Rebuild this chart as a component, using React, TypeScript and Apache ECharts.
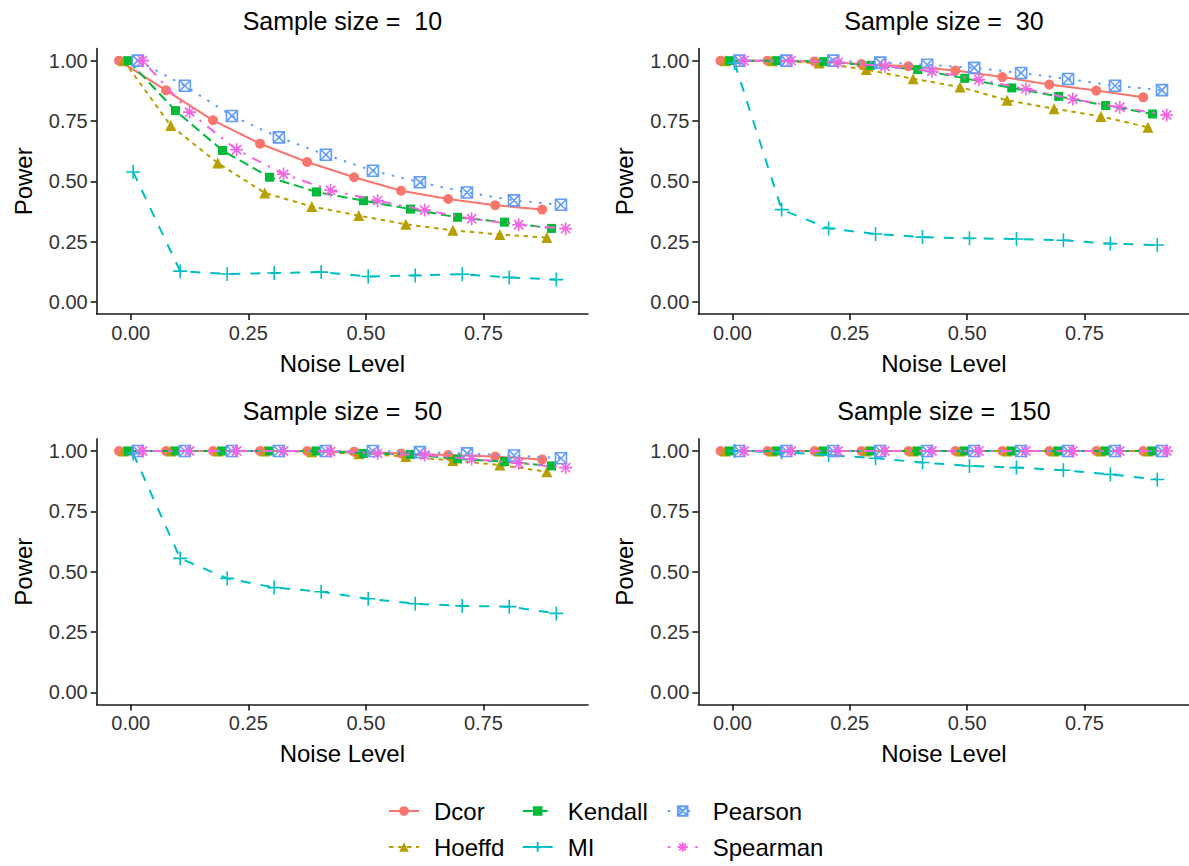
import React, { useEffect, useRef } from "react";
import * as echarts from "echarts";

const noiseLevels = [0, 0.1, 0.2, 0.3, 0.4, 0.5, 0.6, 0.7, 0.8, 0.9];
const methods = ["Dcor", "Hoeffd", "Kendall", "MI", "Pearson", "Spearman"];
const colors = ["#F8766D", "#B79F00", "#00BA38", "#00BFC4", "#619CFF", "#F564E3"];
const sampleSizes = [10, 30, 50, 150];
const xTicks = [0, 0.25, 0.5, 0.75];
const yTicks = [0, 0.25, 0.5, 0.75, 1];

// Sample size = 10
const dcor10 = [1.0, 0.877, 0.753, 0.656, 0.58, 0.517, 0.461, 0.427, 0.401, 0.383];
const hoeffd10 = [1.0, 0.731, 0.576, 0.452, 0.396, 0.358, 0.322, 0.297, 0.28, 0.267];
const kendall10 = [1.0, 0.793, 0.628, 0.517, 0.456, 0.42, 0.385, 0.351, 0.331, 0.305];
const mi10 = [0.539, 0.128, 0.116, 0.12, 0.124, 0.106, 0.11, 0.115, 0.102, 0.093];
const pearson10 = [1.0, 0.896, 0.771, 0.682, 0.61, 0.544, 0.496, 0.454, 0.421, 0.403];
const spearman10 = [1.0, 0.787, 0.631, 0.53, 0.463, 0.42, 0.381, 0.345, 0.32, 0.304];

// Sample size = 30
const dcor30 = [1.0, 1.0, 0.997, 0.986, 0.977, 0.959, 0.932, 0.901, 0.876, 0.848];
const hoeffd30 = [1.0, 1.0, 0.99, 0.963, 0.925, 0.891, 0.836, 0.801, 0.769, 0.724];
const kendall30 = [1.0, 1.0, 0.996, 0.981, 0.963, 0.927, 0.887, 0.852, 0.814, 0.779];
const mi30 = [0.99, 0.383, 0.305, 0.282, 0.269, 0.264, 0.261, 0.256, 0.242, 0.236];
const pearson30 = [1.0, 1.0, 1.0, 0.992, 0.983, 0.97, 0.949, 0.924, 0.896, 0.878];
const spearman30 = [1.0, 1.0, 0.993, 0.977, 0.956, 0.921, 0.883, 0.841, 0.807, 0.775];

// Sample size = 50
const dcor50 = [1.0, 1.0, 1.0, 1.0, 1.0, 0.997, 0.99, 0.983, 0.977, 0.965];
const hoeffd50 = [1.0, 1.0, 1.0, 1.0, 0.997, 0.988, 0.977, 0.96, 0.942, 0.914];
const kendall50 = [1.0, 1.0, 1.0, 1.0, 1.0, 0.99, 0.986, 0.967, 0.956, 0.938];
const mi50 = [0.99, 0.555, 0.472, 0.434, 0.417, 0.388, 0.367, 0.358, 0.355, 0.327];
const pearson50 = [1.0, 1.0, 1.0, 1.0, 1.0, 1.0, 0.995, 0.99, 0.981, 0.97];
const spearman50 = [1.0, 1.0, 1.0, 1.0, 0.998, 0.99, 0.983, 0.967, 0.949, 0.931];

// Sample size = 150
const dcor150 = [1, 1, 1, 1, 1, 1, 1, 1, 1, 1];
const hoeffd150 = [1, 1, 1, 1, 1, 1, 1, 1, 1, 1];
const kendall150 = [1, 1, 1, 1, 1, 1, 1, 1, 1, 1];
const mi150 = [1.0, 0.995, 0.983, 0.97, 0.952, 0.938, 0.931, 0.92, 0.903, 0.882];
const pearson150 = [1, 1, 1, 1, 1, 1, 1, 1, 1, 1];
const spearman150 = [1, 1, 1, 1, 1, 1, 1, 1, 1, 1];

const panelData = [
  [dcor10, hoeffd10, kendall10, mi10, pearson10, spearman10],
  [dcor30, hoeffd30, kendall30, mi30, pearson30, spearman30],
  [dcor50, hoeffd50, kendall50, mi50, pearson50, spearman50],
  [dcor150, hoeffd150, kendall150, mi150, pearson150, spearman150],
];

const FONT = "'Liberation Sans', Arial, Helvetica, sans-serif";

const symbols = [
  "circle",
  "triangle",
  "rect",
  "path://M0,-1 L0,1 M-1,0 L1,0",
  "path://M-1,-1 L1,-1 L1,1 L-1,1 Z M-1,-1 L1,1 M1,-1 L-1,1",
  "path://M0,-1 L0,1 M-1,0 L1,0 M-0.71,-0.71 L0.71,0.71 M0.71,-0.71 L-0.71,0.71",
];
const symbolSizes = [10, 11, 9, 14, 11, 13];
const dashes: any[] = ["solid", [4.5, 4.5], [10, 5], [10, 10], [2.5, 7.5], [2.5, 7.5, 10, 7.5]];
const filled = [true, true, true, false, false, false];

const GL = [96.7, 698.3];
const GT = [48.6, 438.9];
const GW = 491.3;
const GH = 265.5;

export default function App() {
  const ref = useRef<HTMLDivElement>(null);
  useEffect(() => {
    if (!ref.current) return;
    const chart = echarts.init(ref.current, null, { renderer: "svg" });
    const grids: any[] = [];
    const xAxes: any[] = [];
    const yAxes: any[] = [];
    const series: any[] = [];
    const graphics: any[] = [];
    const axisLineStyle = { color: "#1a1a1a", width: 1.6 };
    sampleSizes.forEach((n, p) => {
      const col = p % 2;
      const row = Math.floor(p / 2);
      const left = GL[col];
      const top = GT[row];
      grids.push({ left, top, width: GW, height: GH, containLabel: false });
      xAxes.push({
        type: "value",
        gridIndex: p,
        min: -0.0725,
        max: 0.9725,
        axisLine: { show: true, onZero: false, lineStyle: axisLineStyle },
        axisTick: { show: true, length: 6, customValues: xTicks, lineStyle: axisLineStyle },
        axisLabel: {
          customValues: xTicks,
          formatter: (v: number) => v.toFixed(2),
          fontSize: 20,
          color: "#333",
          fontFamily: FONT,
          margin: 9,
        },
        splitLine: { show: false },
      });
      yAxes.push({
        type: "value",
        gridIndex: p,
        min: -0.05,
        max: 1.05,
        axisLine: { show: true, onZero: false, lineStyle: axisLineStyle },
        axisTick: { show: true, length: 6, customValues: yTicks, lineStyle: axisLineStyle },
        axisLabel: {
          customValues: yTicks,
          formatter: (v: number) => v.toFixed(2),
          fontSize: 20,
          color: "#333",
          fontFamily: FONT,
          margin: 9,
        },
        splitLine: { show: false },
      });
      const cx = left + GW / 2;
      graphics.push({
        type: "text",
        x: cx,
        y: top - 27.6,
        style: { text: "Sample size =  " + n, font: `25px ${FONT}`, fill: "#000", align: "center", verticalAlign: "middle", textAlign: "center", textVerticalAlign: "middle" },
      });
      graphics.push({
        type: "text",
        x: cx,
        y: top + GH + 49,
        style: { text: "Noise Level", font: `24px ${FONT}`, fill: "#000", align: "center", verticalAlign: "middle", textAlign: "center", textVerticalAlign: "middle" },
      });
      graphics.push({
        type: "text",
        x: left - 73.5,
        y: top + GH / 2,
        rotation: Math.PI / 2,
        style: { text: "Power", font: `24px ${FONT}`, fill: "#000", align: "center", verticalAlign: "middle", textAlign: "center", textVerticalAlign: "middle" },
      });
      methods.forEach((m, i) => {
        const offset = (i - 2.5) * 0.01;
        const vals = panelData[p][i];
        series.push({
          type: "line",
          name: m,
          xAxisIndex: p,
          yAxisIndex: p,
          data: noiseLevels.map((x, k) => [x + offset, vals[k]]),
          symbol: symbols[i],
          symbolSize: symbolSizes[i],
          showSymbol: true,
          lineStyle: { color: colors[i], width: 2, type: dashes[i] },
          itemStyle: filled[i]
            ? { color: colors[i], borderWidth: 0 }
            : { color: "rgba(0,0,0,0)", borderColor: colors[i], borderWidth: 1.6 },
          emphasis: { disabled: true },
          z: 2 + i,
        });
      });
    });

    const legendCols = [
      { left: 388, items: ["Dcor", "Hoeffd"] },
      { left: 521.7, items: ["Kendall", "MI"] },
      { left: 666.7, items: ["Pearson", "Spearman"] },
    ];
    const legendRows = [813, 849];
    const legends: any[] = [];
    legendCols.forEach((c) => {
      c.items.forEach((name, r) => {
        legends.push({
          show: true,
          data: [name],
          left: c.left,
          top: legendRows[r] - 14,
          itemWidth: 30,
          itemHeight: 12,
          padding: 0,
          selectedMode: false,
          textStyle: { fontSize: 24, fontFamily: FONT, color: "#000", padding: [0, 0, 0, 10] },
        });
      });
    });

    chart.setOption({
      animation: false,
      backgroundColor: "#fff",
      grid: grids,
      xAxis: xAxes,
      yAxis: yAxes,
      series,
      legend: legends,
      graphic: graphics,
    });
    return () => chart.dispose();
  }, []);
  return (
    <div
      ref={ref}
      style={{ position: "fixed", left: 0, top: 0, width: 1189, height: 866 }}
    />
  );
}
